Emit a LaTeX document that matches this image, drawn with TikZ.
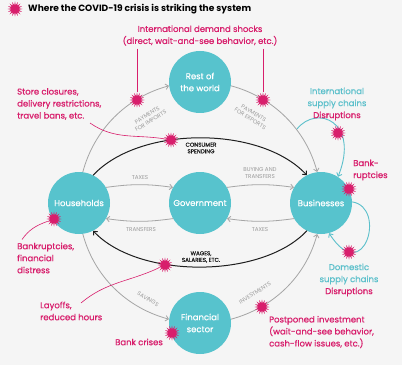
\documentclass[tikz,border=0pt]{standalone}
\usepackage{fontspec}
\setmainfont{Poppins}
\newfontfamily\medfont{Poppins}[FakeBold=0.7]
\usetikzlibrary{arrows.meta,shapes.geometric}
\definecolor{paper}{HTML}{F5F5F5}
\definecolor{ink}{HTML}{1E1E1E}
\definecolor{flowgray}{HTML}{A5A5A5}
\definecolor{labelgray}{HTML}{9A9A9A}
\definecolor{sectorteal}{HTML}{57C3CD}
\definecolor{chainteal}{HTML}{5CC0CB}
\definecolor{shockpink}{HTML}{D81E6C}

\begin{document}
\begin{tikzpicture}[x=1pt,y=1pt,>={Straight Barb[length=3pt,width=5.5pt]},
  sector/.style={circle,fill=sectorteal,text=white,minimum size=62pt,inner sep=0pt,align=center,font=\medfont\fontsize{8.5}{12}\selectfont},
  burst/.style={star,star points=16,star point ratio=1.9,fill=shockpink,minimum size=15pt,inner sep=0pt},
  flow/.style={draw=flowgray,line width=0.8pt,->},
  money/.style={draw=ink,line width=1pt,->},
  flowlab/.style={font=\fontsize{5.6}{6.6}\selectfont,text=labelgray,align=center,inner sep=0pt},
  moneylab/.style={font=\medfont\fontsize{5.6}{6.6}\selectfont,text=ink,align=center,inner sep=0pt},
  shocktext/.style={font=\medfont\fontsize{8.5}{12}\selectfont,text=shockpink,align=left,inner sep=0pt},
  pointer/.style={draw=shockpink,line width=0.6pt},
  chain/.style={draw=chainteal,line width=0.9pt,->}]
  \fill[paper] (0,0) rectangle (402,365);

  % sectors
  \node[sector] (rw) at (200,283) {Rest of\\the world};
  \node[sector] (hh) at (79,162) {Households};
  \node[sector] (gv) at (200,162) {Government};
  \node[sector] (bb) at (321,162) {Businesses};
  \node[sector] (fs) at (200,42) {Financial\\sector};

  % outer money flows
  \draw[flow] (hh.83) to[out=75,in=195,distance=44] (rw.187);
  \draw[flow] (rw.353) to[out=-15,in=105,distance=44] (bb.97);
  \draw[flow] (hh.277) to[out=-75,in=165,distance=44] (fs.173);
  \draw[flow] (fs.7) to[out=15,in=255,distance=44] (bb.263);
  \node[flowlab,rotate=32] (imp) at (149,247) {PAYMENTS\\FOR IMPORTS};
  \node[flowlab,rotate=-32] (exp) at (252,249) {PAYMENTS\\FOR EXPORTS};
  \node[flowlab,rotate=-32] (sav) at (148,66) {SAVINGS};
  \node[flowlab,rotate=32] (inv) at (255,72) {INVESTMENTS};

  % spending and wages
  \draw[money] (hh.63) to[out=47,in=133,distance=68] (bb.117);
  \draw[money] (bb.243) to[out=227,in=313,distance=66] (hh.297);
  \node[moneylab] (spend) at (201,217) {CONSUMER\\SPENDING};
  \node[moneylab] (wage) at (201,108) {WAGES,\\SALARIES, ETC.};

  % government flows
  \draw[flow] (hh.30) to[bend left=8] (gv.150);
  \draw[flow] (gv.210) to[bend left=8] (hh.330);
  \draw[flow] (gv.30) to[bend left=8] (bb.150);
  \draw[flow] (bb.210) to[bend left=8] (gv.330);
  \node[flowlab] (taxh) at (140,187) {TAXES};
  \node[flowlab] (trh) at (141,135) {TRANSFERS};
  \node[flowlab] (buy) at (260,192) {BUYING AND\\TRANSFERS};
  \node[flowlab] (taxb) at (260,135) {TAXES};

  % supply chains
  \coordinate (iscstart) at (297,236);
  \draw[chain] (iscstart) .. controls +(20,25) and +(22,55) .. (bb.57);
  \draw[chain] (bb.2) .. controls +(35,-5) and +(35,-55) .. (bb.-75);

  % texts
  \node[font=\fontsize{9.1}{12}\selectfont\bfseries,anchor=west,inner sep=0pt] (title) at (28,356) {Where the COVID-19 crisis is striking the system};
  \node[shocktext,align=center] (demand) at (200,329.5) {International demand shocks\\(direct, wait-and-see behavior, etc.)};
  \node[shocktext,anchor=west] (store) at (17,261) {Store closures,\\delivery restrictions,\\travel bans, etc.};
  \node[shocktext,align=center] (intl) at (337,261) {\textcolor{chainteal}{International}\\\textcolor{chainteal}{supply chains}\\Disruptions};
  \node[shocktext,anchor=west] (bankr) at (353,195) {Bank-\\ruptcies};
  \node[shocktext,anchor=west] (hhdist) at (17,107) {Bankruptcies,\\financial\\distress};
  \node[shocktext,align=center] (dom) at (349,85) {\textcolor{chainteal}{Domestic}\\\textcolor{chainteal}{supply chains}\\Disruptions};
  \node[shocktext,anchor=west] (layoff) at (40,54) {Layoffs,\\reduced hours};
  \node[shocktext,anchor=west] (postp) at (269,33) {Postponed investment\\(wait-and-see behavior,\\cash-flow issues, etc.)};
  \node[shocktext,anchor=east] (bankc) at (163,23) {Bank crises};

  % shocks
  \node[burst] (blegend) at (15,356) {};
  \node[burst] (bimp) at (137,265) {};
  \node[burst] (bexp) at (263,265) {};
  \node[burst] (bcons) at (171,225) {};
  \node[burst] (bbank) at (349,176) {};
  \node[burst] (bintl) at (338,232) {};
  \node[burst] (bdom) at (349,113) {};
  \node[burst] (bhh) at (54,146) {};
  \node[burst] (bwage) at (165,100) {};
  \node[burst] (binv) at (262,58) {};
  \node[burst] (bbankc) at (172,32) {};

  % pointers
  \coordinate (storeend) at (90,242);
  \coordinate (layend) at (81,62);
  \draw[pointer] (bimp |- demand.south) ++(0,-3) -- (bimp);
  \draw[pointer] (bexp |- demand.south) ++(0,-3) -- (bexp);
  \draw[pointer] (storeend) to[out=-35,in=170] (bcons);
  \draw[pointer] ([xshift=5pt,yshift=3pt]hhdist.north west) to[out=55,in=200] (bhh);
  \draw[pointer] (layend) to[out=40,in=205] (bwage);
\end{tikzpicture}
\end{document}
